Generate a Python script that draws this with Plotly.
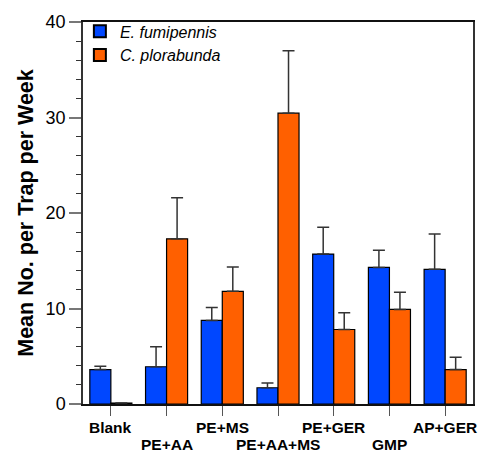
import plotly.graph_objects as go

categories = ["Blank", "PE+AA", "PE+MS", "PE+AA+MS", "PE+GER", "GMP", "AP+GER"]
series_names = ["E. fumipennis", "C. plorabunda"]
fumipennis_mean = [3.6, 3.9, 8.75, 1.7, 15.7, 14.3, 14.1]
fumipennis_se = [0.35, 2.1, 1.35, 0.5, 2.8, 1.8, 3.7]
plorabunda_mean = [0.1, 17.3, 11.8, 30.45, 7.8, 9.9, 3.6]
plorabunda_se = [0.0, 4.3, 2.55, 6.55, 1.75, 1.8, 1.3]
y_ticks = [0, 10, 20, 30, 40]

BLUE = "#0047FF"
ORANGE = "#FF6000"
FONT = "Liberation Sans, Arial, Helvetica, sans-serif"

fig = go.Figure()
for name, mean, se, col in [
    (series_names[0], fumipennis_mean, fumipennis_se, BLUE),
    (series_names[1], plorabunda_mean, plorabunda_se, ORANGE),
]:
    fig.add_trace(go.Bar(
        x=categories, y=mean, name="<i>" + name + "</i>",
        marker=dict(color=col, line=dict(color="#000000", width=1.2)),
        error_y=dict(type="data", array=se, arrayminus=[0] * len(se),
                     symmetric=False, color="#333333", thickness=1.5, width=6),
    ))

for i, c in enumerate(categories):
    fig.add_annotation(
        x=c, xref="x", y=-0.035 if i % 2 == 0 else -0.078, yref="paper",
        yanchor="top", xanchor="center", text="<b>" + c + "</b>", showarrow=False,
        font=dict(family=FONT, size=15.5, color="#000000"),
    )

fig.update_layout(
    width=492, height=455,
    margin=dict(l=83, r=19, t=15, b=51),
    paper_bgcolor="white", plot_bgcolor="white",
    barmode="group", bargap=0.245, bargroupgap=0,
    font=dict(family=FONT, color="#000000"),
    showlegend=True,
    legend=dict(x=-0.008, y=1.02, xanchor="left", yanchor="top",
                bgcolor="rgba(0,0,0,0)", font=dict(family=FONT, size=16),
                tracegroupgap=0, itemsizing="constant"),
    xaxis=dict(range=[-0.5, 6.5], showticklabels=False, ticks="outside",
               ticklen=10, tickcolor="#555555", tickwidth=1.2,
               showline=True, linecolor="#111111", linewidth=1.5, mirror=True,
               showgrid=False, zeroline=False),
    yaxis=dict(range=[0, 40], tickvals=y_ticks, ticks="outside", ticklen=12,
               tickcolor="#777777", tickwidth=1.5,
               tickfont=dict(family=FONT, size=18, color="#000000"),
               minor=dict(dtick=2, ticks="outside", ticklen=5, tickcolor="#333333", tickwidth=1),
               showline=True, linecolor="#333333", linewidth=1.5, mirror=True,
               showgrid=False, zeroline=False,
               title=dict(text="<b>Mean No. per Trap per Week</b>", standoff=6,
                          font=dict(family=FONT, size=21.5, color="#000000"))),
)

fig.write_html("out.html")
